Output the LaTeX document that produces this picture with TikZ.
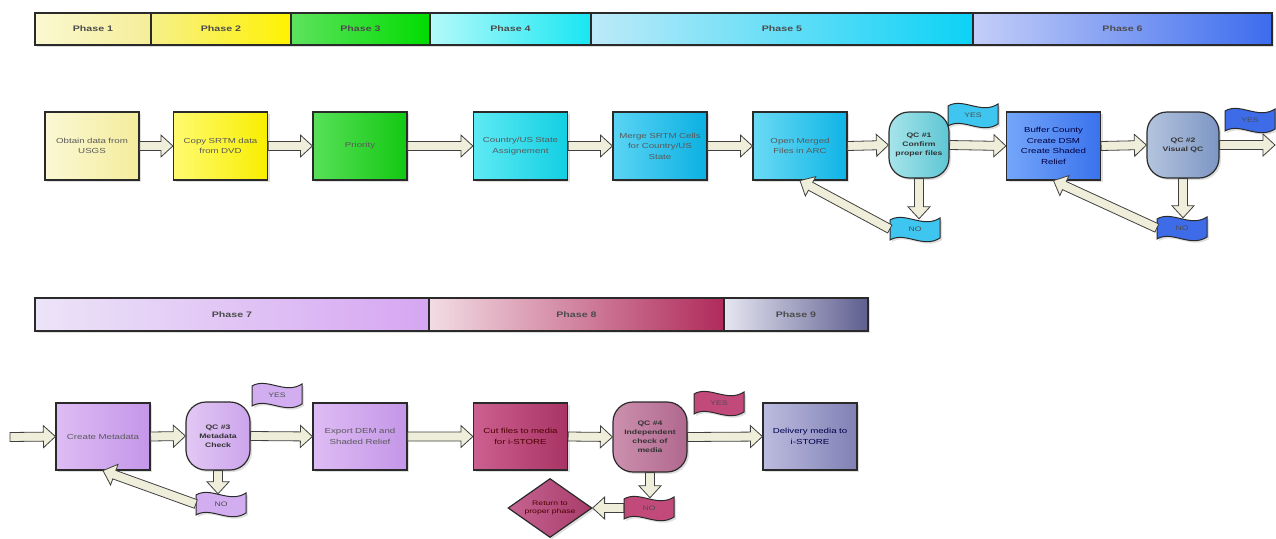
\documentclass[tikz,border=0pt]{standalone}
\usepackage{fontspec}
\setmainfont{Liberation Sans}
\newfontfamily\wfont[FakeStretch=1.33]{Liberation Sans}
\usetikzlibrary{calc,shapes.geometric,shadows}
\definecolor{arrfill}{HTML}{EFEEDA}
\definecolor{edge}{HTML}{2A2A2A}
\definecolor{pIa}{HTML}{FBF8D2}\definecolor{pIb}{HTML}{F5EE98}
\definecolor{pIIa}{HTML}{F6F08A}\definecolor{pIIb}{HTML}{FFF200}
\definecolor{pIIIa}{HTML}{5EE25E}\definecolor{pIIIb}{HTML}{00DC00}
\definecolor{pIVa}{HTML}{B4FAFA}\definecolor{pIVb}{HTML}{18E6F2}
\definecolor{pVa}{HTML}{BDEAF8}\definecolor{pVb}{HTML}{0CD2F6}
\definecolor{pVIa}{HTML}{C4CEF8}\definecolor{pVIb}{HTML}{3C6CEE}
\definecolor{pVIIa}{HTML}{ECE4F8}\definecolor{pVIIb}{HTML}{D6A6F2}
\definecolor{pVIIIa}{HTML}{F2DCE4}\definecolor{pVIIIb}{HTML}{B02A5A}
\definecolor{pIXa}{HTML}{E6E6F2}\definecolor{pIXb}{HTML}{5E5E90}
\definecolor{fcyan}{HTML}{3EC6F0}
\definecolor{fblue}{HTML}{3E6CE8}
\definecolor{fviolet}{HTML}{D2AEF0}
\definecolor{fcrim}{HTML}{C24A7A}
% box colours
\definecolor{bIa}{HTML}{FBF8D4}\definecolor{bIb}{HTML}{F4EC9C}
\definecolor{bIIa}{HTML}{FFFA70}\definecolor{bIIb}{HTML}{F8EE00}
\definecolor{bIIIa}{HTML}{58E058}\definecolor{bIIIb}{HTML}{12C812}
\definecolor{bIVa}{HTML}{5EEAF4}\definecolor{bIVb}{HTML}{12CFE2}
\definecolor{bVa}{HTML}{5AD4F4}\definecolor{bVb}{HTML}{0BB0E2}
\definecolor{bVIa}{HTML}{6ADAF4}\definecolor{bVIb}{HTML}{0EB4E6}
\definecolor{qIa}{HTML}{A6E4EA}\definecolor{qIb}{HTML}{5EC6D4}
\definecolor{bufa}{HTML}{74A6FA}\definecolor{bufb}{HTML}{3A72EC}
\definecolor{qIIa}{HTML}{B4C4DE}\definecolor{qIIb}{HTML}{7C96C4}
\definecolor{vioa}{HTML}{DEBCF4}\definecolor{viob}{HTML}{C496E8}
\definecolor{qIIIa}{HTML}{E2C8F4}\definecolor{qIIIb}{HTML}{CCA4EC}
\definecolor{cuta}{HTML}{CC6090}\definecolor{cutb}{HTML}{A83464}
\definecolor{qIVa}{HTML}{CC90AE}\definecolor{qIVb}{HTML}{B0688E}
\definecolor{dela}{HTML}{BCBCE0}\definecolor{delb}{HTML}{8080B4}
\definecolor{reta}{HTML}{C66492}\definecolor{retb}{HTML}{A83C6A}
\tikzset{
  x=1pt, y=-1pt,
  shad/.style={drop shadow={shadow xshift=2pt, shadow yshift=-2pt, opacity=0.25}},
  phasebar/.style={draw=edge, line width=1.4pt, minimum height=32pt, inner sep=0pt,
    font=\wfont\fontsize{8}{9}\selectfont\bfseries, text=black!70, shad},
  box/.style={draw=edge, line width=1.2pt, minimum width=94pt, minimum height=68pt,
    inner sep=2pt, text width=90pt, align=center,
    font=\wfont\fontsize{7.3}{10.5}\selectfont, text=black!65, shad},
  qc/.style={draw=edge, line width=1.2pt, rounded corners=20pt, minimum width=60pt,
    minimum height=66pt, inner sep=1pt, align=center,
    font=\wfont\fontsize{6.5}{9}\selectfont\bfseries, text=black!80, shad},
  fatarrow/.style={draw=black!75, line width=0.8pt, fill=arrfill, line join=miter},
  flagshape/.style={draw=edge, line width=1pt, shad},
  flagtext/.style={font=\wfont\fontsize{6.5}{7}\selectfont, text=black!70, inner sep=0pt,
    minimum width=50pt, minimum height=20pt},
}
\newcommand\fatarr[2]{%
  \coordinate (fa-s) at (#1);
  \coordinate (fa-e) at (#2);
  \coordinate (fa-h) at ($(fa-e)!12pt!(fa-s)$);
  \filldraw[fatarrow] ($(fa-s)!4.5pt!90:(fa-e)$) -- ($(fa-h)!4.5pt!90:(fa-e)$)
    -- ($(fa-h)!11pt!90:(fa-e)$) -- (fa-e) -- ($(fa-h)!11pt!-90:(fa-e)$)
    -- ($(fa-h)!4.5pt!-90:(fa-e)$) -- ($(fa-s)!4.5pt!-90:(fa-e)$) -- cycle;
}
\newcommand\flagnode[4]{%
  \path[flagshape, fill=#3, shift={(#2)}] (-25,-9) .. controls (-10,-18) and (8,0) .. (25,-11)
    -- (25,9) .. controls (8,20) and (-10,2) .. (-25,11) -- cycle;
  \node[flagtext] (#1) at (#2) {#4};
}
\begin{document}
\begin{tikzpicture}
\useasboundingbox[fill=white] (0,0) rectangle (1276,538);

% phase bars row 1
\node[phasebar, minimum width=116pt, left color=pIa, right color=pIb] (ph1) at (93,29) {Phase 1};
\node[phasebar, minimum width=140pt, left color=pIIa, right color=pIIb] (ph2) at (221,29) {Phase 2};
\node[phasebar, minimum width=139pt, left color=pIIIa, right color=pIIIb] (ph3) at (360.5,29) {Phase 3};
\node[phasebar, minimum width=161pt, left color=pIVa, right color=pIVb] (ph4) at (510.5,29) {Phase 4};
\node[phasebar, minimum width=382pt, left color=pVa, right color=pVb] (ph5) at (782,29) {Phase 5};
\node[phasebar, minimum width=299pt, left color=pVIa, right color=pVIb] (ph6) at (1122.5,29) {Phase 6};

% phase bars row 2
\node[phasebar, minimum height=33pt, minimum width=394pt, left color=pVIIa, right color=pVIIb] (ph7) at (232,314.5) {Phase 7};
\node[phasebar, minimum height=33pt, minimum width=295pt, left color=pVIIIa, right color=pVIIIb] (ph8) at (576.5,314.5) {Phase 8};
\node[phasebar, minimum height=33pt, minimum width=144pt, left color=pIXa, right color=pIXb] (ph9) at (796,314.5) {Phase 9};

% row 1 process boxes
\node[box, left color=bIa, right color=bIb] (obtain) at (92,146) {Obtain data from\\USGS};
\node[box, left color=bIIa, right color=bIIb] (copy) at (220.5,146) {Copy SRTM data\\from DVD};
\node[box, left color=bIIIa, right color=bIIIb] (prio) at (360,146) {Priority};
\node[box, left color=bIVa, right color=bIVb] (country) at (520.5,146) {Country/US State\\Assignement};
\node[box, left color=bVa, right color=bVb] (merge) at (660,146) {Merge SRTM Cells\\for Country/US\\State};
\node[box, left color=bVIa, right color=bVIb] (open) at (800,146) {Open Merged\\Files in ARC};
\node[qc, left color=qIa, right color=qIb] (qc1) at (919,145) {QC \#1\\Confirm\\proper files};
\node[box, minimum width=93pt, left color=bufa, right color=bufb, text=black!75!blue] (buffer) at (1053.5,146) {Buffer County\\Create DSM\\Create Shaded\\Relief};
\node[qc, minimum width=72pt, left color=qIIa, right color=qIIb] (qc2) at (1183,145) {QC \#2\\Visual QC};
\coordinate (exit1) at (1275,145);

\flagnode{yes1}{973,115}{fcyan}{YES}
\flagnode{no1}{915,229}{fcyan}{NO}
\flagnode{yes2}{1250,120}{fblue}{YES}
\flagnode{no2}{1182,228}{fblue}{NO}

% row 2
\coordinate (entry2) at (10,437);
\node[box, minimum width=90pt, minimum height=67pt, left color=vioa, right color=viob] (meta) at (103,436.5) {Create Metadata};
\node[qc, minimum width=64pt, minimum height=68pt, left color=qIIIa, right color=qIIIb] (qc3) at (218,436) {QC \#3\\Metadata\\Check};
\node[box, minimum height=67pt, left color=vioa, right color=viob] (export) at (360,436.5) {Export DEM and\\Shaded Relief};
\node[box, minimum height=67pt, left color=cuta, right color=cutb, text=black!70!red] (cut) at (520.5,436.5) {Cut files to media\\for i-STORE};
\node[qc, minimum width=74pt, minimum height=70pt, left color=qIVa, right color=qIVb] (qc4) at (650,437) {QC \#4\\Independent\\check of\\media};
\node[box, minimum height=67pt, left color=dela, right color=delb, text=black!70!blue] (deliv) at (810,436.5) {Delivery media to\\i-STORE};
\node[diamond, draw=edge, line width=1.2pt, minimum width=84pt, minimum height=59pt, inner sep=0pt,
  aspect=1.4, align=center, font=\wfont\fontsize{6.5}{8}\selectfont, text=black!70!red,
  left color=reta, right color=retb, shad] (ret) at (550,508) {Return to\\proper phase};

\flagnode{yes3}{277,395}{fviolet}{YES}
\flagnode{no3}{221,504}{fviolet}{NO}
\flagnode{yes4}{719,403}{fcrim}{YES}
\flagnode{no4}{649,508}{fcrim}{NO}

% connectors row 1
\fatarr{obtain.east}{copy.west}
\fatarr{copy.east}{prio.west}
\fatarr{prio.east}{country.west}
\fatarr{country.east}{merge.west}
\fatarr{merge.east}{open.west}
\fatarr{open.east}{qc1.west}
\fatarr{qc1.east}{buffer.west}
\fatarr{buffer.east}{qc2.west}
\fatarr{qc2.east}{exit1}
\fatarr{qc1.south}{qc1.south |- no1.north}
\fatarr{qc2.south}{qc2.south |- no2.north}
\fatarr{no1.west}{open.south}
\fatarr{no2.west}{buffer.south}

% connectors row 2
\fatarr{entry2}{meta.west}
\fatarr{meta.east}{qc3.west}
\fatarr{qc3.east}{export.west}
\fatarr{export.east}{cut.west}
\fatarr{cut.east}{qc4.west}
\fatarr{qc4.east}{deliv.west}
\fatarr{qc3.south}{qc3.south |- no3.north}
\fatarr{qc4.south}{qc4.south |- no4.north}
\fatarr{no3.west}{meta.south}
\fatarr{no4.west}{ret.east}
\end{tikzpicture}
\end{document}
